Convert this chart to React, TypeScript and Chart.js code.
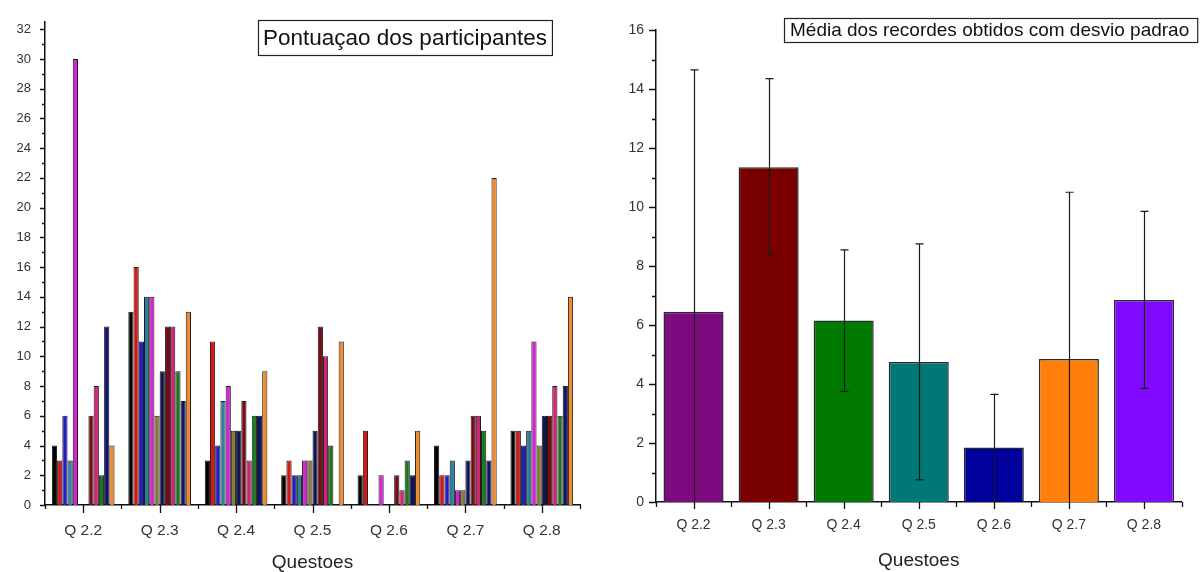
import React, { useEffect, useRef } from "react";
import { Chart, registerables } from "chart.js";

Chart.register(...registerables);

const FONT = "'Liberation Sans', Arial, sans-serif";

// ---------- data ----------
const questions = ["Q 2.2", "Q 2.3", "Q 2.4", "Q 2.5", "Q 2.6", "Q 2.7", "Q 2.8"];

const participantColors = [
  "#000000", "#D81818", "#1F1FC8", "#2E7FA0", "#D424D4", "#8A7A3C",
  "#141455", "#780A14", "#D42274", "#1E781E", "#10106E", "#F08A28",
];
const participant1 = [4, 13, 3, 2, 2, 4, 5];
const participant2 = [3, 16, 11, 3, 5, 2, 5];
const participant3 = [6, 11, 4, 2, 0, 2, 4];
const participant4 = [3, 14, 7, 2, 0, 3, 5];
const participant5 = [30, 14, 8, 3, 2, 1, 11];
const participant6 = [0, 6, 5, 3, 0, 1, 4];
const participant7 = [0, 9, 5, 5, 0, 3, 6];
const participant8 = [6, 12, 7, 12, 2, 6, 6];
const participant9 = [8, 12, 3, 10, 1, 6, 8];
const participant10 = [2, 9, 6, 4, 3, 5, 6];
const participant11 = [12, 7, 6, 0, 2, 3, 8];
const participant12 = [4, 13, 9, 11, 5, 22, 14];
const participants = [
  participant1, participant2, participant3, participant4, participant5, participant6,
  participant7, participant8, participant9, participant10, participant11, participant12,
];

const meanValues = [6.45, 11.35, 6.15, 4.75, 1.85, 4.85, 6.85];
const stdDev = [8.2, 3.0, 2.4, 4.0, 1.8, 5.65, 3.0];
const meanColors = ["#7E0A80", "#7A0000", "#007A00", "#007878", "#00009A", "#FF7F0A", "#7F0AFF"];

const leftTitle = "Pontuaçao dos participantes";
const rightTitle = "Média dos recordes obtidos com desvio padrao";
const xAxisTitle = "Questoes";

// ---------- plugins ----------
function tickMarksPlugin(majorStep: number, yMajorLen: number, yMinorLen: number, xMajorLen: number, xMinorLen: number) {
  return {
    id: "tickMarks",
    afterDraw(chart: any) {
      const ctx = chart.ctx;
      const { left, bottom } = chart.chartArea;
      const y = chart.scales.y;
      const x = chart.scales.x;
      ctx.save();
      ctx.strokeStyle = "#111";
      ctx.lineWidth = 1.3;
      ctx.beginPath();
      const maxV = Math.floor(y.max);
      for (let v = 0; v <= maxV; v++) {
        const py = Math.round(y.getPixelForValue(v)) + 0.5;
        const len = v % majorStep === 0 ? yMajorLen : yMinorLen;
        ctx.moveTo(left, py);
        ctx.lineTo(left - len, py);
      }
      const n = x.getLabels().length;
      const step = (x.right - x.left) / n;
      for (let i = 0; i < n; i++) {
        const cx = Math.round(x.getPixelForValue(i)) + 0.5;
        ctx.moveTo(cx, bottom);
        ctx.lineTo(cx, bottom + xMajorLen);
      }
      for (let i = 0; i <= n; i++) {
        const bx = Math.round(x.left + i * step) + 0.5;
        ctx.moveTo(bx, bottom);
        ctx.lineTo(bx, bottom + xMinorLen);
      }
      ctx.stroke();
      ctx.restore();
    },
  };
}

function titleBoxPlugin(text: string, fontSize: number, boxLeft: number, boxTop: number, boxHeight: number, padX: number, extraRight: number) {
  return {
    id: "titleBox",
    afterDraw(chart: any) {
      const ctx = chart.ctx;
      ctx.save();
      ctx.font = `${fontSize}px ${FONT}`;
      const w = ctx.measureText(text).width;
      const bw = w + padX * 2 + extraRight;
      ctx.fillStyle = "#fff";
      ctx.fillRect(boxLeft, boxTop, bw, boxHeight);
      ctx.strokeStyle = "#222";
      ctx.lineWidth = 1.2;
      ctx.strokeRect(boxLeft + 0.5, boxTop + 0.5, bw, boxHeight);
      ctx.fillStyle = "#111";
      ctx.textBaseline = "middle";
      ctx.textAlign = "left";
      ctx.fillText(text, boxLeft + padX, boxTop + boxHeight / 2 + 1);
      ctx.restore();
    },
  };
}

const errorBarPlugin = {
  id: "errorBars",
  afterDatasetsDraw(chart: any) {
    const ctx = chart.ctx;
    const y = chart.scales.y;
    const x = chart.scales.x;
    const area = chart.chartArea;
    ctx.save();
    ctx.beginPath();
    ctx.rect(area.left, area.top - 2, area.right - area.left, area.bottom - area.top + 2);
    ctx.clip();
    ctx.strokeStyle = "#1a1a1a";
    ctx.lineWidth = 1.2;
    ctx.beginPath();
    for (let i = 0; i < meanValues.length; i++) {
      const cx = Math.round(x.getPixelForValue(i)) + 0.5;
      const hi = y.getPixelForValue(meanValues[i] + stdDev[i]);
      const lo = y.getPixelForValue(meanValues[i] - stdDev[i]);
      ctx.moveTo(cx, hi);
      ctx.lineTo(cx, lo);
      ctx.moveTo(cx - 4, hi);
      ctx.lineTo(cx + 4, hi);
      ctx.moveTo(cx - 4, lo);
      ctx.lineTo(cx + 4, lo);
    }
    ctx.stroke();
    ctx.restore();
  },
};

// ---------- charts ----------
function ParticipantsChart() {
  const ref = useRef<HTMLCanvasElement | null>(null);
  useEffect(() => {
    if (!ref.current) return;
    const chart = new Chart(ref.current, {
      type: "bar",
      data: {
        labels: questions,
        datasets: participants.map((vals, i) => ({
          label: `P${i + 1}`,
          data: vals,
          backgroundColor: participantColors[i],
          borderColor: "#1a1a1a",
          borderWidth: 1,
          categoryPercentage: 0.82,
          barPercentage: 1,
        })),
      },
      options: {
        responsive: false,
        maintainAspectRatio: false,
        animation: false,
        layout: { padding: { left: 0, right: 20, top: 17.5, bottom: 0 } },
        plugins: { legend: { display: false }, tooltip: { enabled: false }, title: { display: false } },
        scales: {
          x: {
            type: "category",
            offset: true,
            grid: { display: false, drawTicks: false, offset: true },
            border: { display: true, color: "#111", width: 1.5 },
            ticks: { padding: 16, color: "#333", font: { family: FONT, size: 15.5 }, maxRotation: 0 },
            title: { display: true, text: xAxisTitle, color: "#222", font: { family: FONT, size: 19, lineHeight: 1 }, padding: { top: 0, bottom: 0 } },
            afterFit: (s: any) => { s.height = 67; },
          },
          y: {
            min: 0,
            max: 32.5,
            grid: { display: false, drawTicks: false },
            border: { display: true, color: "#111", width: 1.5 },
            ticks: { stepSize: 2, includeBounds: false, padding: 14, color: "#333", font: { family: FONT, size: 13 } },
            afterFit: (s: any) => { s.width = 45; },
          },
        },
      },
      plugins: [tickMarksPlugin(2, 5, 3, 8, 4), titleBoxPlugin(leftTitle, 22.5, 258, 20, 35, 5, 0)],
    } as any);
    return () => chart.destroy();
  }, []);
  return <canvas ref={ref} width={600} height={572} style={{ position: "absolute", left: 0, top: 0 }} />;
}

function MeanChart() {
  const ref = useRef<HTMLCanvasElement | null>(null);
  useEffect(() => {
    if (!ref.current) return;
    const chart = new Chart(ref.current, {
      type: "bar",
      data: {
        labels: questions,
        datasets: [
          {
            label: "Média",
            data: meanValues,
            backgroundColor: meanColors,
            borderColor: "#2a2a2a",
            borderWidth: 1.5,
            categoryPercentage: 0.8,
            barPercentage: 1,
          },
        ],
      },
      options: {
        responsive: false,
        maintainAspectRatio: false,
        animation: false,
        layout: { padding: { left: 0, right: 18.5, top: 30, bottom: 0 } },
        plugins: { legend: { display: false }, tooltip: { enabled: false }, title: { display: false } },
        scales: {
          x: {
            type: "category",
            offset: true,
            grid: { display: false, drawTicks: false, offset: true },
            border: { display: true, color: "#111", width: 1.5 },
            ticks: { padding: 15, color: "#333", font: { family: FONT, size: 14 }, maxRotation: 0 },
            title: { display: true, text: xAxisTitle, color: "#222", font: { family: FONT, size: 19, lineHeight: 1 }, padding: { top: 0, bottom: 2 } },
            afterFit: (s: any) => { s.height = 70; },
          },
          y: {
            min: 0,
            max: 16,
            grid: { display: false, drawTicks: false },
            border: { display: true, color: "#111", width: 1.5 },
            ticks: { stepSize: 2, padding: 12, color: "#333", font: { family: FONT, size: 14 } },
            afterFit: (s: any) => { s.width = 56; },
          },
        },
      },
      plugins: [errorBarPlugin, tickMarksPlugin(2, 7, 4, 7, 5), titleBoxPlugin(rightTitle, 19, 184, 18, 24, 6, 2)],
    } as any);
    return () => chart.destroy();
  }, []);
  return <canvas ref={ref} width={600} height={572} style={{ position: "absolute", left: 600, top: 0 }} />;
}

export default function App() {
  return (
    <div style={{ position: "absolute", left: 0, top: 0, width: 1200, height: 572, background: "#fff", overflow: "hidden" }}>
      <ParticipantsChart />
      <MeanChart />
    </div>
  );
}
